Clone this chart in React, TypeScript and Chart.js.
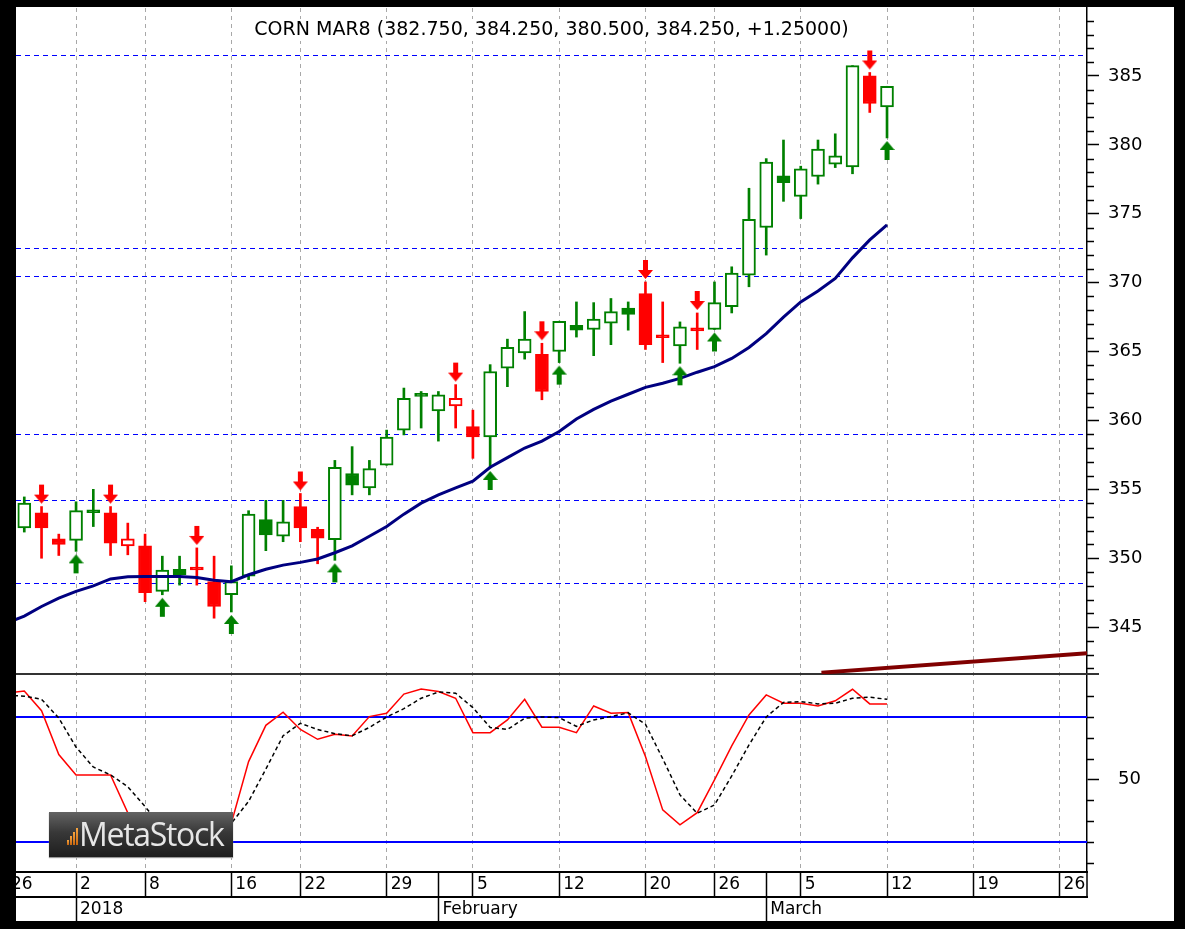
import React, { useEffect, useRef } from 'react';
import { Chart, registerables } from 'chart.js';

Chart.register(...registerables);

const TITLE = 'CORN MAR8 (382.750, 384.250, 380.500, 384.250, +1.25000)';
const FONT = '"DejaVu Sans", "Liberation Sans", sans-serif';

// Trading sessions: session 0 = 26 Dec 2017 (hidden under the frame); candles start at session 1.
const candleDates = [
  '2017-12-27', '2017-12-28', '2017-12-29', '2018-01-02', '2018-01-03', '2018-01-04', '2018-01-05',
  '2018-01-08', '2018-01-09', '2018-01-10', '2018-01-11', '2018-01-12', '2018-01-16', '2018-01-17',
  '2018-01-18', '2018-01-19', '2018-01-22', '2018-01-23', '2018-01-24', '2018-01-25', '2018-01-26',
  '2018-01-29', '2018-01-30', '2018-01-31', '2018-02-01', '2018-02-02', '2018-02-05', '2018-02-06',
  '2018-02-07', '2018-02-08', '2018-02-09', '2018-02-12', '2018-02-13', '2018-02-14', '2018-02-15',
  '2018-02-16', '2018-02-20', '2018-02-21', '2018-02-22', '2018-02-23', '2018-02-26', '2018-02-27',
  '2018-02-28', '2018-03-01', '2018-03-02', '2018-03-05', '2018-03-06', '2018-03-07', '2018-03-08',
  '2018-03-09', '2018-03-12',
];

const opens = [
  352.2, 353.3, 351.4, 351.3, 353.3, 353.3, 350.9, 350.9, 347.6, 349.2,
  349.15, 348.3, 347.35, 348.7, 352.8, 351.6, 353.75, 352.1, 351.35, 356.15,
  355.1, 356.75, 359.3, 361.75, 360.7, 361.05, 359.55, 358.8, 363.8, 364.9,
  364.8, 365.0, 366.9, 366.6, 367.05, 368.15, 369.2, 366.0, 365.4, 366.5,
  366.6, 368.25, 370.55, 374.0, 377.75, 376.25, 377.7, 378.6, 378.4, 385.0,
  382.75,
];
const highs = [
  354.45, 353.75, 351.75, 354.1, 355.0, 353.75, 352.55, 351.75, 350.15, 350.15,
  350.75, 350.15, 349.45, 353.45, 354.2, 354.2, 354.7, 352.25, 357.1, 358.1,
  357.1, 359.3, 362.35, 362.1, 362.1, 362.6, 360.75, 364.05, 365.9, 367.9,
  365.6, 367.2, 368.6, 368.55, 368.85, 368.6, 370.05, 368.6, 367.15, 367.8,
  370.05, 371.15, 376.85, 379.0, 380.35, 378.45, 380.35, 380.8, 385.75, 385.25,
  384.25,
];
const lows = [
  351.9, 350.0, 350.2, 350.5, 352.3, 350.2, 350.25, 346.85, 347.35, 348.05,
  348.05, 345.65, 346.1, 348.45, 350.55, 351.2, 351.2, 349.6, 349.85, 354.6,
  354.6, 356.75, 358.95, 359.45, 358.5, 359.45, 357.25, 356.55, 362.45, 364.45,
  361.5, 364.2, 366.05, 364.7, 365.5, 366.55, 365.15, 364.2, 364.15, 365.15,
  366.6, 367.8, 369.7, 372.0, 375.9, 374.65, 377.15, 378.35, 377.9, 382.35,
  380.5,
];
const closes = [
  354.0, 352.2, 351.0, 353.45, 353.3, 351.1, 351.4, 347.5, 349.15, 348.8,
  349.15, 346.5, 348.3, 353.2, 351.7, 352.65, 352.2, 351.45, 356.6, 355.3,
  356.5, 358.8, 361.6, 361.75, 361.85, 361.6, 358.8, 363.55, 365.3, 365.9,
  362.1, 367.2, 366.55, 367.35, 367.9, 367.7, 365.5, 366.0, 366.8, 366.5,
  368.55, 370.7, 374.6, 378.75, 377.25, 378.25, 379.7, 379.2, 385.75, 383.0,
  384.25,
];

// Expert signals (session numbers)
const sellSignals = [2, 6, 11, 17, 26, 31, 37, 40, 50];
const buySignals = [4, 9, 13, 19, 28, 32, 39, 41, 51];

// Moving average, sessions 0..51
const maValues = [
  345.3, 345.8, 346.5, 347.1, 347.6, 348.0, 348.5, 348.65, 348.67, 348.67,
  348.67, 348.6, 348.4, 348.3, 348.8, 349.2, 349.5, 349.7, 349.95, 350.4,
  350.9, 351.6, 352.3, 353.2, 354.0, 354.6, 355.1, 355.6, 356.6, 357.3,
  358.0, 358.5, 359.2, 360.1, 360.8, 361.4, 361.9, 362.4, 362.7, 363.05,
  363.5, 363.9, 364.5, 365.3, 366.3, 367.5, 368.6, 369.4, 370.3, 371.8,
  373.1, 374.2,
];

// Stochastic oscillator, sessions 0..51
const stochK = [
  91.5, 92.5, 83, 62, 52.2, 52.2, 52.2, 34, 25, 22,
  24, 28, 30, 29, 58.6, 76, 82.3, 74, 69.3, 71.7,
  70.9, 80.2, 81.8, 91, 93.4, 92.2, 89, 72.5, 72.5, 78.6,
  88.5, 75.1, 75.1, 72.5, 85.3, 81.8, 82.1, 61, 35.4, 28.2,
  34.1, 49.8, 66.1, 81, 90.6, 86.6, 86.6, 85.3, 87.8, 93.3,
  86.3, 86.3,
];
const stochD = [
  90.5, 90.0, 88.5, 79.5, 65.5, 56, 52.2, 46.5, 37, 27,
  23.7, 24.7, 27.3, 29, 39.5, 55, 71, 77, 74, 72,
  71, 75, 80, 84, 89, 92, 91.4, 84.5, 75, 74,
  79.4, 80, 79.7, 75.5, 78.6, 80.2, 82, 76.5, 60, 42.6,
  33.8, 37.8, 51.7, 66.6, 80, 87, 87.4, 86.3, 86.6, 89,
  89.5, 88.5,
];

// Horizontal support / resistance levels
const priceLevels = [386.5, 372.5, 370.45, 359.05, 354.2, 348.2];
const stochLevels = [80, 20];

// Trend line (session, price)
const trendSessions = [47.2, 62.6];
const trendValues = [341.7, 343.1];

// Axis ticks
const dayTickSessions = [0, 4, 8, 13, 17, 22, 25, 27, 32, 37, 41, 44, 46, 51, 56, 61];
const dayTickLabels = ['26', '2', '8', '16', '22', '29', '', '5', '12', '20', '26', '', '5', '12', '19', '26'];
const monthTickSessions = [4, 25, 44];
const monthTickLabels = ['2018', 'February', 'March'];
const priceTicks = [345, 350, 355, 360, 365, 370, 375, 380, 385];
const stochTicks = [50];
const stochMinorTicks = [10, 20, 30, 40, 60, 70, 80, 90];

const X_MIN = 0.52;
const X_MAX = 62.59;
const PRICE_MIN = 341.6;
const PRICE_MAX = 389.93;
const STOCH_MIN = 5.6;
const STOCH_MAX = 100.64;

const GREEN = '#008000';
const RED = '#ff0000';

function candleTones(): string[] {
  let tone = GREEN;
  return closes.map((_, k) => {
    const s = k + 1;
    if (sellSignals.includes(s)) tone = RED;
    if (buySignals.includes(s)) tone = GREEN;
    return tone;
  });
}

function makeArrow(color: string, up: boolean): HTMLCanvasElement {
  const c = document.createElement('canvas');
  c.width = 15;
  c.height = 46;
  const g = c.getContext('2d') as CanvasRenderingContext2D;
  g.fillStyle = color;
  g.beginPath();
  if (up) {
    const t = 26;
    g.moveTo(7.5, t); g.lineTo(15, t + 9); g.lineTo(10, t + 9); g.lineTo(10, t + 19);
    g.lineTo(5, t + 19); g.lineTo(5, t + 9); g.lineTo(0, t + 9);
  } else {
    const t = 20;
    g.moveTo(7.5, t); g.lineTo(15, t - 9); g.lineTo(10, t - 9); g.lineTo(10, t - 19);
    g.lineTo(5, t - 19); g.lineTo(5, t - 9); g.lineTo(0, t - 9);
  }
  g.closePath();
  g.fill();
  return c;
}

const overlayPlugin = {
  id: 'metastockOverlay',
  beforeDatasetsDraw(chart: any) {
    const { ctx, chartArea: a, scales } = chart;
    const y = scales.y;
    const yS = scales.yS;
    ctx.save();
    ctx.strokeStyle = '#0000ff';
    ctx.lineWidth = 1;
    ctx.setLineDash([5, 4]);
    for (const lv of priceLevels) {
      const py = Math.round(y.getPixelForValue(lv)) + 0.5;
      ctx.beginPath(); ctx.moveTo(a.left, py); ctx.lineTo(a.right, py); ctx.stroke();
    }
    ctx.setLineDash([]);
    ctx.lineWidth = 2;
    for (const lv of stochLevels) {
      const py = Math.round(yS.getPixelForValue(lv));
      ctx.beginPath(); ctx.moveTo(a.left, py); ctx.lineTo(a.right, py); ctx.stroke();
    }
    ctx.strokeStyle = '#333333';
    ctx.lineWidth = 2;
    const sep = Math.round(y.bottom);
    ctx.beginPath(); ctx.moveTo(a.left, sep); ctx.lineTo(a.right + 12, sep); ctx.stroke();
    ctx.restore();
  },
  afterDraw(chart: any) {
    const { ctx, chartArea: a, scales } = chart;
    const y = scales.y;
    const yS = scales.yS;
    ctx.save();
    ctx.strokeStyle = '#000';
    ctx.lineWidth = 1.5;
    for (let v = Math.ceil(PRICE_MIN); v <= PRICE_MAX; v++) {
      if (priceTicks.includes(v)) continue;
      const py = Math.round(y.getPixelForValue(v)) + 0.5;
      ctx.beginPath(); ctx.moveTo(y.left, py); ctx.lineTo(y.left + 7, py); ctx.stroke();
    }
    for (const v of stochMinorTicks) {
      const py = Math.round(yS.getPixelForValue(v)) + 0.5;
      ctx.beginPath(); ctx.moveTo(yS.left, py); ctx.lineTo(yS.left + 7, py); ctx.stroke();
    }
    // axis line continues through the day row
    ctx.beginPath(); ctx.moveTo(a.right, a.bottom); ctx.lineTo(a.right, scales.x.bottom); ctx.stroke();

    // title with white background
    ctx.font = `19px ${FONT}`;
    const w = ctx.measureText(TITLE).width;
    const cx = (a.left + a.right) / 2;
    const cy = a.top + 22;
    ctx.fillStyle = '#ffffff';
    ctx.fillRect(cx - w / 2 - 2, cy - 11, w + 4, 22);
    ctx.fillStyle = '#000000';
    ctx.textAlign = 'center';
    ctx.textBaseline = 'middle';
    ctx.fillText(TITLE, cx, cy);
    ctx.restore();
  },
};

export default function App() {
  const ref = useRef<HTMLCanvasElement>(null);

  useEffect(() => {
    const canvas = ref.current as HTMLCanvasElement;
    const tones = candleTones();
    const sessionOf = (k: number) => k + 1;
    const wickData = lows.map((l, k) => ({ x: sessionOf(k), y: [l, highs[k]] }));
    const bodyData = opens.map((o, k) => ({
      x: sessionOf(k),
      y: [Math.min(o, closes[k]), Math.max(o, closes[k])],
    }));
    const bodyFill = opens.map((o, k) => (closes[k] > o ? '#ffffff' : tones[k]));
    const downArrow = makeArrow(RED, false);
    const upArrow = makeArrow(GREEN, true);

    const chart = new Chart(canvas, {
      type: 'bar',
      data: {
        labels: candleDates,
        datasets: [
          {
            type: 'line', label: 'Sell', xAxisID: 'x', yAxisID: 'y',
            data: sellSignals.map((s) => ({ x: s, y: highs[s - 1] })),
            showLine: false, pointStyle: downArrow as any, pointRadius: 8, order: 0,
          },
          {
            type: 'line', label: 'Buy', xAxisID: 'x', yAxisID: 'y',
            data: buySignals.map((s) => ({ x: s, y: lows[s - 1] })),
            showLine: false, pointStyle: upArrow as any, pointRadius: 8, order: 0,
          },
          {
            type: 'line', label: 'MA', xAxisID: 'x', yAxisID: 'y',
            data: maValues.map((v, s) => ({ x: s, y: v })),
            borderColor: '#000080', borderWidth: 3, pointRadius: 0, tension: 0, order: 1,
          },
          {
            type: 'bar', label: 'Body', xAxisID: 'x', yAxisID: 'y',
            data: bodyData as any,
            backgroundColor: bodyFill, borderColor: tones, borderWidth: 2,
            borderSkipped: false, barThickness: 13, minBarLength: 3, grouped: false, order: 2,
          },
          {
            type: 'bar', label: 'Wick', xAxisID: 'x', yAxisID: 'y',
            data: wickData as any,
            backgroundColor: tones, borderWidth: 0, barThickness: 2, grouped: false, order: 3,
          },
          {
            type: 'line', label: 'Trend', xAxisID: 'x', yAxisID: 'y',
            data: trendSessions.map((s, k) => ({ x: s, y: trendValues[k] })),
            borderColor: '#800000', borderWidth: 4, pointRadius: 0, order: 4,
          },
          {
            type: 'line', label: '%D', xAxisID: 'x', yAxisID: 'yS',
            data: stochD.map((v, s) => ({ x: s, y: v })),
            borderColor: '#000000', borderWidth: 1.5, borderDash: [4, 3], pointRadius: 0, order: 1,
          },
          {
            type: 'line', label: '%K', xAxisID: 'x', yAxisID: 'yS',
            data: stochK.map((v, s) => ({ x: s, y: v })),
            borderColor: RED, borderWidth: 1.5, pointRadius: 0, order: 2,
          },
        ] as any,
      },
      options: {
        responsive: false,
        animation: false,
        events: [],
        layout: { autoPadding: false, padding: { top: 1, right: 32, bottom: 0, left: 0 } },
        plugins: { legend: { display: false }, tooltip: { enabled: false }, title: { display: false } },
        scales: {
          x: {
            type: 'linear', position: 'bottom', weight: 0, min: X_MIN, max: X_MAX, offset: false,
            afterBuildTicks: (s: any) => { s.ticks = dayTickSessions.map((v) => ({ value: v })); },
            afterFit: (s: any) => { s.height = 25; s.paddingLeft = 0; s.paddingRight = 0; },
            ticks: {
              autoSkip: false, maxRotation: 0, minRotation: 0, align: 'start', labelOffset: 4,
              padding: -23, color: '#000', font: { family: FONT, size: 17 },
              callback: (v: any) => {
                const i = dayTickSessions.indexOf(Number(v));
                return i >= 0 ? dayTickLabels[i] : '';
              },
            },
            grid: {
              offset: false,
              color: (c: any) => (dayTickLabels[c.index] === '' ? 'rgba(0,0,0,0)' : '#a8a8a8'),
              lineWidth: 1, tickLength: 25, tickColor: '#000', tickWidth: 1.5, tickBorderDash: [],
            },
            border: { display: true, color: '#000', width: 2, dash: [4, 4] },
          },
          x2: {
            type: 'linear', position: 'bottom', weight: 1, min: X_MIN, max: X_MAX, offset: false,
            afterBuildTicks: (s: any) => { s.ticks = monthTickSessions.map((v) => ({ value: v })); },
            afterFit: (s: any) => { s.height = 24; s.paddingLeft = 0; s.paddingRight = 0; },
            ticks: {
              autoSkip: false, maxRotation: 0, minRotation: 0, align: 'start', labelOffset: 4,
              padding: -22, color: '#000', font: { family: FONT, size: 17 },
              callback: (v: any) => {
                const i = monthTickSessions.indexOf(Number(v));
                return i >= 0 ? monthTickLabels[i] : '';
              },
            },
            grid: {
              offset: false,
              drawOnChartArea: false, tickLength: 24, tickColor: '#000', tickWidth: 1.5, tickBorderDash: [],
            },
            border: { display: true, color: '#000', width: 2 },
          },
          y: {
            type: 'linear', position: 'right', stack: 'panes', stackWeight: 666, weight: 0,
            min: PRICE_MIN, max: PRICE_MAX,
            afterBuildTicks: (s: any) => { s.ticks = priceTicks.map((v) => ({ value: v })); },
            afterFit: (s: any) => { s.width = 55; s.paddingTop = 0; s.paddingBottom = 0; },
            ticks: { autoSkip: false, padding: 9, crossAlign: 'near', color: '#000', font: { family: FONT, size: 18 } },
            grid: { drawOnChartArea: false, tickLength: 12, tickColor: '#000', tickWidth: 1.5 },
            border: { display: true, color: '#000', width: 1.5 },
          },
          yS: {
            type: 'linear', position: 'right', stack: 'panes', stackWeight: 198, weight: 0,
            min: STOCH_MIN, max: STOCH_MAX,
            afterBuildTicks: (s: any) => { s.ticks = stochTicks.map((v) => ({ value: v })); },
            afterFit: (s: any) => { s.width = 55; s.paddingTop = 0; s.paddingBottom = 0; },
            ticks: { autoSkip: false, padding: 19, crossAlign: 'near', color: '#000', font: { family: FONT, size: 18 } },
            grid: { drawOnChartArea: false, tickLength: 12, tickColor: '#000', tickWidth: 1.5 },
            border: { display: true, color: '#000', width: 1.5 },
          },
        } as any,
      },
      plugins: [overlayPlugin],
    });
    return () => chart.destroy();
  }, []);

  return (
    <div style={{ position: 'absolute', left: 0, top: 0, width: 1185, height: 929, background: '#000', overflow: 'hidden' }}>
      <div style={{ position: 'absolute', left: 16, top: 7, width: 1158, height: 914, background: '#fff' }}>
        <canvas ref={ref} width={1158} height={914} style={{ display: 'block', width: 1158, height: 914 }} />
      </div>
      <div
        style={{
          position: 'absolute', left: 49, top: 812, width: 184, height: 45,
          background: 'linear-gradient(#636363, #383838 45%, #1e1e1e)',
          boxShadow: '0 1px 1px #999',
        }}
      >
        {[5, 9, 13, 17].map((h, k) => (
          <div
            key={k}
            style={{
              position: 'absolute', left: 18 + k * 3, top: 33 - h, width: 2, height: h,
              background: 'linear-gradient(#f7a540, #c9660e)',
            }}
          />
        ))}
        <span
          style={{
            position: 'absolute', left: 30, top: 0, height: 45, lineHeight: '41px',
            font: '32px "Open Sans", sans-serif', color: '#e6e6e6', letterSpacing: '-1.3px', whiteSpace: 'nowrap',
          }}
        >
          MetaStock
        </span>
      </div>
    </div>
  );
}
